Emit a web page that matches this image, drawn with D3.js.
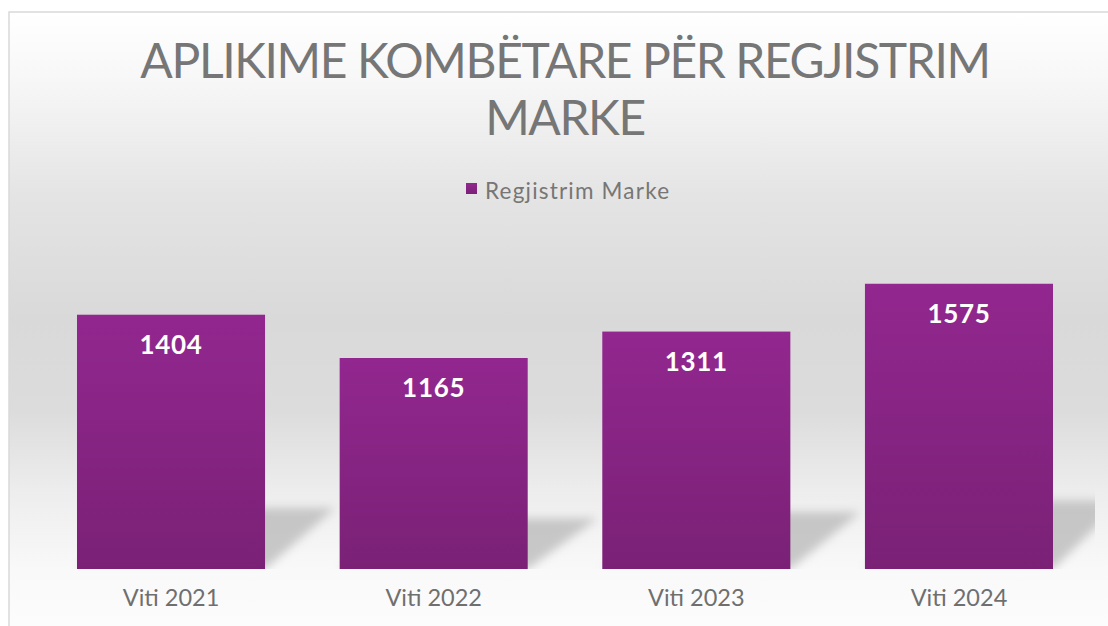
<!DOCTYPE html>
<html><head><meta charset="utf-8">
<script src="https://cdn.jsdelivr.net/npm/d3@7"></script>
<style>html,body{margin:0;padding:0;background:#fff;overflow:hidden}</style>
</head><body>
<svg id="c" width="1108" height="626"></svg>
<script>
const categories = ["Viti 2021", "Viti 2022", "Viti 2023", "Viti 2024"];
const values = [1404, 1165, 1311, 1575];
const seriesName = "Regjistrim Marke";
const titleLines = ["APLIKIME KOMBËTARE PËR REGJISTRIM", "MARKE"];
const yDomain = [0, 1800];

const svg = d3.select("#c");
const W = 1108, H = 626;
const font = "Lato, 'Open Sans', sans-serif";
const defs = svg.append("defs");

const bg = defs.append("linearGradient").attr("id","bg")
  .attr("gradientUnits","userSpaceOnUse").attr("x1",0).attr("y1",12).attr("x2",0).attr("y2",626);
[[0,"#ffffff"],[0.1,"#f8f8f8"],[0.3,"#e4e4e4"],[0.5,"#d9d9d9"],[0.65,"#dcdcdc"],[0.78,"#ededed"],[0.91,"#f9f9f9"],[1,"#fcfcfc"]]
  .forEach(([o,c])=>bg.append("stop").attr("offset",o).attr("stop-color",c));

const bar = defs.append("linearGradient").attr("id","bar").attr("x1",0).attr("y1",0).attr("x2",0).attr("y2",1);
bar.append("stop").attr("offset",0).attr("stop-color","#92278f");
bar.append("stop").attr("offset",1).attr("stop-color","#7a2176");

const blur = defs.append("filter").attr("id","blur").attr("x","-50%").attr("y","-50%").attr("width","200%").attr("height","200%");
blur.append("feGaussianBlur").attr("stdDeviation",5);

defs.append("clipPath").attr("id","clip").append("rect").attr("x",10).attr("y",12).attr("width",1085).attr("height",557);

svg.append("rect").attr("x",9).attr("y",12).attr("width",W).attr("height",H)
  .attr("fill","url(#bg)").attr("stroke","#d9d9d9").attr("stroke-width",1.5);

// title
svg.append("g").selectAll("text").data(titleLines).join("text")
  .attr("x",565).attr("y",(d,i)=>78+i*57)
  .attr("text-anchor","middle").attr("font-family",font).attr("font-size",48)
  .attr("letter-spacing",-1.4)
  .attr("fill","#767676").text(d=>d);

// legend
svg.append("rect").attr("x",466).attr("y",183).attr("width",11).attr("height",11).attr("fill","url(#bar)");
svg.append("text").attr("x",485).attr("y",199).attr("font-family",font).attr("font-size",22.5)
  .attr("letter-spacing",1.2).attr("fill","#767676").text(seriesName);

const x = d3.scaleBand().domain(categories).range([39.7, 1090.3]).paddingInner(0.284).paddingOuter(0.142);
const y = d3.scaleLinear().domain(yDomain).range([569, 243]);

// shadows
svg.append("g").attr("clip-path","url(#clip)").selectAll("path").data(categories).join("path")
  .attr("d",(d,i)=>{
    const x0 = x(d), x1 = x(d)+x.bandwidth(), b = y(0);
    const h = (y(0)-y(values[i]))*0.24, dx = 70;
    return `M${x0},${b}L${x1},${b}L${x1+dx},${b-h}L${x0+dx},${b-h}Z`;
  })
  .attr("fill","#b4b4b4").attr("opacity",0.7).attr("filter","url(#blur)");

svg.append("g").selectAll("rect").data(categories).join("rect")
  .attr("x",d=>x(d)).attr("width",x.bandwidth())
  .attr("y",(d,i)=>y(values[i])).attr("height",(d,i)=>y(0)-y(values[i]))
  .attr("fill","url(#bar)");

svg.append("g").selectAll("text").data(categories).join("text")
  .attr("x",d=>x(d)+x.bandwidth()/2).attr("y",(d,i)=>y(values[i])+39)
  .attr("text-anchor","middle").attr("font-family",font).attr("font-weight","bold")
  .attr("font-size",26).attr("letter-spacing",0.7).attr("fill","#ffffff").text((d,i)=>values[i]);

const ax = svg.append("g").attr("transform",`translate(0,${y(0)})`)
  .call(d3.axisBottom(x).tickSize(0).tickPadding(20));
ax.select(".domain").remove();
ax.selectAll("text").attr("font-family",font).attr("font-size",23.5).attr("fill","#6f6f6f").attr("dy","0.71em");
</script>
</body></html>
